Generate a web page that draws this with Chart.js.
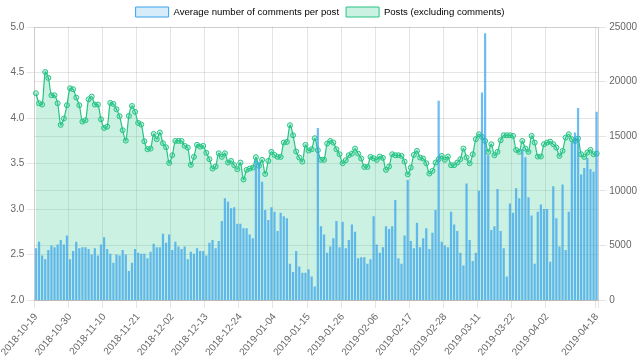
<!DOCTYPE html>
<html>
<head>
<meta charset="utf-8">
<script src="https://cdn.jsdelivr.net/npm/chart.js@4/dist/chart.umd.min.js"></script>
<style>
  html, body { margin: 0; padding: 0; background: #ffffff; }
  #wrap { width: 640px; height: 361px; }
</style>
</head>
<body>
<div id="wrap"><canvas id="c" width="640" height="361"></canvas></div>
<script>
const categories = [
  '2018-10-19','2018-10-20','2018-10-21','2018-10-22','2018-10-23','2018-10-24','2018-10-25','2018-10-26','2018-10-27','2018-10-28','2018-10-29','2018-10-30','2018-10-31',
  '2018-11-01','2018-11-02','2018-11-03','2018-11-04','2018-11-05','2018-11-06','2018-11-07','2018-11-08','2018-11-09','2018-11-10','2018-11-11','2018-11-12','2018-11-13','2018-11-14','2018-11-15','2018-11-16','2018-11-17','2018-11-18','2018-11-19','2018-11-20','2018-11-21','2018-11-22','2018-11-23','2018-11-24','2018-11-25','2018-11-26','2018-11-27','2018-11-28','2018-11-29','2018-11-30',
  '2018-12-01','2018-12-02','2018-12-03','2018-12-04','2018-12-05','2018-12-06','2018-12-07','2018-12-08','2018-12-09','2018-12-10','2018-12-11','2018-12-12','2018-12-13','2018-12-14','2018-12-15','2018-12-16','2018-12-17','2018-12-18','2018-12-19','2018-12-20','2018-12-21','2018-12-22','2018-12-23','2018-12-24','2018-12-25','2018-12-26','2018-12-27','2018-12-28','2018-12-29','2018-12-30','2018-12-31',
  '2019-01-01','2019-01-02','2019-01-03','2019-01-04','2019-01-05','2019-01-06','2019-01-07','2019-01-08','2019-01-09','2019-01-10','2019-01-11','2019-01-12','2019-01-13','2019-01-14','2019-01-15','2019-01-16','2019-01-17','2019-01-18','2019-01-19','2019-01-20','2019-01-21','2019-01-22','2019-01-23','2019-01-24','2019-01-25','2019-01-26','2019-01-27','2019-01-28','2019-01-29','2019-01-30','2019-01-31',
  '2019-02-01','2019-02-02','2019-02-03','2019-02-04','2019-02-05','2019-02-06','2019-02-07','2019-02-08','2019-02-09','2019-02-10','2019-02-11','2019-02-12','2019-02-13','2019-02-14','2019-02-15','2019-02-16','2019-02-17','2019-02-18','2019-02-19','2019-02-20','2019-02-21','2019-02-22','2019-02-23','2019-02-24','2019-02-25','2019-02-26','2019-02-27','2019-02-28',
  '2019-03-01','2019-03-02','2019-03-03','2019-03-04','2019-03-05','2019-03-06','2019-03-07','2019-03-08','2019-03-09','2019-03-10','2019-03-11','2019-03-12','2019-03-13','2019-03-14','2019-03-15','2019-03-16','2019-03-17','2019-03-18','2019-03-19','2019-03-20','2019-03-21','2019-03-22','2019-03-23','2019-03-24','2019-03-25','2019-03-26','2019-03-27','2019-03-28','2019-03-29','2019-03-30','2019-03-31',
  '2019-04-01','2019-04-02','2019-04-03','2019-04-04','2019-04-05','2019-04-06','2019-04-07','2019-04-08','2019-04-09','2019-04-10','2019-04-11','2019-04-12','2019-04-13','2019-04-14','2019-04-15','2019-04-16','2019-04-17','2019-04-18'
];

const avgComments = [
  2.57, 2.64, 2.49, 2.45, 2.55, 2.60, 2.58, 2.61, 2.66, 2.61,
  2.71, 2.45, 2.54, 2.64, 2.57, 2.58, 2.58, 2.56, 2.50, 2.57,
  2.49, 2.61, 2.69, 2.56, 2.51, 2.41, 2.50, 2.49, 2.55, 2.50,
  2.32, 2.41, 2.56, 2.52, 2.51, 2.51, 2.46, 2.53, 2.62, 2.58,
  2.58, 2.73, 2.63, 2.72, 2.55, 2.64, 2.59, 2.56, 2.59, 2.45,
  2.53, 2.51, 2.57, 2.54, 2.54, 2.49, 2.63, 2.66, 2.57, 2.65,
  2.87, 3.12, 3.08, 3.01, 3.02, 2.84, 2.84, 2.79, 2.79, 2.72,
  2.68, 3.54, 3.52, 3.30, 2.99, 2.88, 3.02, 2.97, 2.76, 2.96,
  2.92, 2.90, 2.40, 2.31, 2.54, 2.37, 2.30, 2.30, 2.34, 2.26,
  2.15, 3.89, 2.81, 2.72, 2.52, 2.59, 2.68, 2.87, 2.58, 2.86,
  2.57, 2.66, 2.83, 2.75, 2.46, 2.47, 2.47, 2.40, 2.45, 2.92,
  2.61, 2.52, 2.58, 2.81, 2.78, 2.81, 3.10, 2.46, 2.40, 2.71,
  3.32, 2.65, 2.57, 2.85, 2.58, 2.68, 2.79, 2.56, 2.74, 2.99,
  4.19, 2.64, 2.60, 2.58, 2.97, 2.83, 2.76, 2.52, 2.38, 3.28,
  2.66, 2.43, 2.52, 3.20, 4.28, 4.93, 3.59, 2.77, 2.81, 3.22,
  2.76, 2.57, 2.26, 3.06, 2.96, 3.23, 3.12, 3.66, 3.57, 3.13,
  2.93, 2.40, 2.97, 3.05, 3.00, 3.00, 2.42, 3.25, 2.90, 2.59,
  3.27, 2.55, 2.97, 3.74, 3.84, 4.11, 3.38, 3.45, 3.56, 3.44,
  3.41, 4.07
];

const posts = [
  18930, 18020, 17900, 20880, 20340, 18750, 18750, 18020, 16040, 16620,
  17840, 19390, 19300, 18540, 17840, 16340, 16460, 18380, 18630, 17900,
  17900, 16550, 15760, 15880, 18050, 17960, 17470, 16830, 15550, 14600,
  16860, 17770, 17230, 16220, 16070, 14540, 13810, 13870, 15210, 14730,
  15340, 14360, 13990, 12560, 13260, 14570, 14570, 14570, 14120, 13960,
  12380, 13110, 14210, 14050, 14120, 13480, 12900, 12040, 12230, 13440,
  13110, 13440, 12590, 12740, 12350, 11980, 12590, 11040, 11920, 12040,
  12130, 13080, 12290, 12840, 11550, 12740, 13570, 13290, 13110, 13110,
  14420, 14480, 16010, 15090, 13600, 13050, 12680, 14210, 13690, 13810,
  14820, 13720, 12840, 12840, 14330, 14570, 14420, 13810, 13350, 12530,
  12800, 13260, 13410, 13870, 13410, 12960, 12190, 12190, 13110, 12990,
  12840, 13140, 13020, 11920, 12230, 13350, 13260, 13260, 13200, 12680,
  11520, 12130, 13290, 13660, 13050, 12960, 12530, 11580, 11830, 12590,
  12900, 13200, 12840, 13140, 12350, 12350, 12590, 12900, 13870, 13050,
  12530, 13350, 14730, 15180, 14940, 14570, 13570, 14270, 13260, 13570,
  14630, 15090, 15090, 15090, 15030, 13750, 13570, 14570, 13870, 13570,
  15030, 14420, 13140, 13140, 14270, 14420, 14510, 14270, 13960, 13200,
  13660, 14880, 15180, 14730, 14570, 14790, 13350, 13110, 13510, 13750,
  13350, 13410
];

const leftTicks = [2.0, 2.5, 3.0, 3.5, 4.0, 4.5, 5.0];
const rightTicks = [0, 5000, 10000, 15000, 20000, 25000];
const labelEvery = 11;

const N = categories.length;
function shownLabel(i) {
  return (i % labelEvery === 0 && i + labelEvery < N) || i === N - 1;
}

Chart.defaults.font.family = "'Liberation Sans', Arial, Helvetica, sans-serif";
Chart.defaults.font.size = 10;
Chart.defaults.color = '#666';

const gridCol = 'rgba(0,0,0,0.1)';
const blue = 'rgb(54,162,235)';
const blueLight = 'rgba(54,162,235,0.2)';
const green = 'rgb(38,196,132)';
const greenLight = 'rgba(38,196,132,0.24)';

new Chart(document.getElementById('c'), {
  data: {
    labels: categories,
    datasets: [
      {
        type: 'bar',
        label: 'Average number of comments per post',
        data: avgComments,
        yAxisID: 'y',
        backgroundColor: 'rgba(54,162,235,0.72)',
        borderColor: blue,
        borderWidth: 0
      },
      {
        type: 'line',
        label: 'Posts (excluding comments)',
        data: posts,
        yAxisID: 'y1',
        fill: 'origin',
        backgroundColor: greenLight,
        borderColor: green,
        borderWidth: 1.2,
        pointRadius: 2.5,
        pointBorderWidth: 1,
        pointBackgroundColor: greenLight,
        pointBorderColor: green,
        tension: 0.3
      }
    ]
  },
  options: {
    responsive: false,
    animation: false,
    devicePixelRatio: 1,
    plugins: {
      legend: {
        position: 'top',
        labels: {
          boxWidth: 33, boxHeight: 10, padding: 7, color: '#666', font: { size: 9.6 },
          generateLabels: (chart) => [
            { text: 'Average number of comments per post', fillStyle: blueLight, strokeStyle: blue, lineWidth: 1, datasetIndex: 0, hidden: false },
            { text: 'Posts (excluding comments)', fillStyle: greenLight, strokeStyle: green, lineWidth: 1, datasetIndex: 1, hidden: false }
          ]
        }
      },
      tooltip: { enabled: false }
    },
    scales: {
      x: {
        type: 'category',
        offset: true,
        grid: {
          offset: true,
          tickLength: 8,
          color: (ctx) => (ctx.index === undefined || shownLabel(ctx.index)) ? gridCol : 'rgba(0,0,0,0)'
        },
        ticks: {
          autoSkip: false,
          minRotation: 50,
          maxRotation: 50,
          padding: 3,
          callback: (v, i) => shownLabel(i) ? categories[i] : ''
        }
      },
      y: {
        position: 'left',
        min: leftTicks[0],
        max: leftTicks[leftTicks.length - 1],
        afterBuildTicks: (s) => { s.ticks = leftTicks.map(v => ({ value: v })); },
        ticks: { callback: (v) => Number(v).toFixed(1), padding: 2 },
        grid: { color: gridCol, tickLength: 8 }
      },
      y1: {
        position: 'right',
        min: rightTicks[0],
        max: rightTicks[rightTicks.length - 1],
        afterBuildTicks: (s) => { s.ticks = rightTicks.map(v => ({ value: v })); },
        ticks: { callback: (v) => String(v), padding: 3 },
        grid: { color: gridCol, tickLength: 8 }
      }
    }
  }
});
</script>
</body>
</html>
